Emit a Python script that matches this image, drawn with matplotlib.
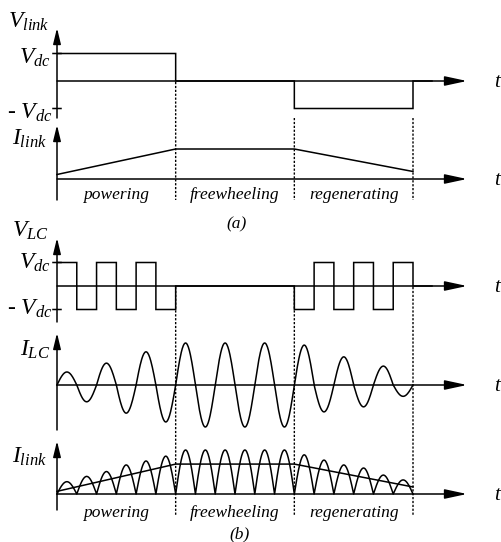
import numpy as np
import matplotlib
matplotlib.use("Agg")
import matplotlib.pyplot as plt

plt.rcParams['font.family'] = 'Liberation Serif'
plt.rcParams['mathtext.fontset'] = 'custom'
plt.rcParams['mathtext.it'] = 'Liberation Serif:italic'
plt.rcParams['mathtext.rm'] = 'Liberation Serif'
plt.rcParams['path.snap'] = False

# time is counted in half periods of the resonant tank
mode_edges = [0, 6, 12, 18]
mode_names = ['powering', 'freewheeling', 'regenerating']

# (a) link voltage in each mode (per unit of Vdc), average link current at the mode edges
vlink_levels = [1, 0, -1]
ilink_avg_a = [0.15, 1.0, 1.0, 0.25]

# (b) tank voltage in each half period (per unit of Vdc)
vlc_levels = [1, -1, 1, -1, 1, -1,
              0, 0, 0, 0, 0, 0,
              -1, 1, -1, 1, -1, 1]
# tank current peak in each half period
ilc_peaks = [0.31, -0.40, 0.52, -0.67, 0.79, -0.88,
             1.0, -1.0, 1.0, -1.0, 1.0, -1.0,
             0.95, -0.64, 0.67, -0.52, 0.45, -0.27]
# rectified link current humps and their average at the mode edges
ilink_humps = [0.28, 0.40, 0.51, 0.66, 0.75, 0.86,
               1.0, 1.0, 1.0, 1.0, 1.0, 1.0,
               0.89, 0.77, 0.66, 0.59, 0.43, 0.32]
ilink_avg_b = [0.06, 0.68, 0.68, 0.16]

W, H = 501, 542
X0 = 57                      # pixel column of the vertical axes
PX = (413 - X0) / 18         # pixels per half period
LW = 1.1
LABEL = 17
SMALL = 12.5


def col(px):
    return (px - X0) / PX


fig = plt.figure(figsize=(W / 100, H / 100), dpi=100)
base = fig.add_axes([0, 0, 1, 1], label='base')
base.set_xlim(col(0), col(W))
base.set_ylim(H, 0)
base.axis('off')


def panel(name, zero_row, unit):
    ax = fig.add_axes([0, 0, 1, 1], label=name)
    ax.set_xlim(col(0), col(W))
    ax.set_ylim((zero_row - H) / unit, zero_row / unit)
    ax.axis('off')
    return ax


def arrow(x0, y0, x1, y1, length, half):
    style = f'-|>,head_length={length},head_width={half}'
    base.annotate('', xy=(x1, y1), xytext=(x0, y0),
                  arrowprops=dict(arrowstyle=style, mutation_scale=1, lw=LW,
                                  color='k', fc='k', shrinkA=0, shrinkB=0))


def arches(ax, peaks):
    u = np.linspace(0, 1, 40)
    t = np.concatenate([k + u for k in range(len(peaks))])
    y = np.concatenate([p * np.sin(np.pi * u) for p in peaks])
    ax.plot(t, y, color='k', lw=LW)


def vticks(ax):
    for v in (1, -1):
        ax.plot([col(53), col(61)], [v, v], color='k', lw=LW)


# signal traces: (zero row, pixels per unit)
zero_rows = [81, 179, 286, 385, 494]
pa_v = panel('vlink', zero_rows[0], 27.5)
pa_i = panel('ilink_a', zero_rows[1], 30)
pb_v = panel('vlc', zero_rows[2], 23.5)
pb_i = panel('ilc', zero_rows[3], 42)
pb_l = panel('ilink_b', zero_rows[4], 44)

# axes: vertical arrows and time arrows
for top, bottom in [(28, 118), (125, 200), (238, 322), (333, 430), (441, 510)]:
    arrow(0, bottom, 0, top, 9.5, 2.3)
for row in zero_rows:
    arrow(0, row, col(467), row, 13.5, 2.9)
    base.text(col(494), row + 6, 't', fontsize=15, style='italic', va='baseline')

vticks(pa_v)
vticks(pb_v)

# (a)
pa_v.stairs(np.append(vlink_levels, 0), np.append(mode_edges, 19),
            baseline=None, color='k', lw=LW)
pa_i.plot(mode_edges, ilink_avg_a, color='k', lw=LW)

# (b)
pb_v.stairs(np.append(vlc_levels, 0), np.arange(len(vlc_levels) + 2),
            baseline=None, color='k', lw=LW)
arches(pb_i, ilc_peaks)
arches(pb_l, ilink_humps)
pb_l.plot(mode_edges, ilink_avg_b, color='k', lw=LW)

# mode boundaries
dots = dict(color='k', lw=1.0, linestyle=(0, (1.6, 1.2)))
base.vlines(mode_edges[1], 82, 200, **dots)
base.vlines(mode_edges[2:], 118, 200, **dots)
base.vlines(mode_edges[1:], 287, 516, **dots)

centres = [(a + b) / 2 for a, b in zip(mode_edges[:-1], mode_edges[1:])]
for c, name in zip(centres, mode_names):
    base.text(c, 199, name, fontsize=SMALL, style='italic', ha='center', va='baseline')
    base.text(c, 517, name, fontsize=SMALL, style='italic', ha='center', va='baseline')
base.text(col(237), 228, '(a)', fontsize=SMALL, style='italic', ha='center', va='baseline')
base.text(col(240), 538, '(b)', fontsize=SMALL, style='italic', ha='center', va='baseline')

# trace names and levels
base.text(col(8), 28, '$V_{link}$', fontsize=LABEL, va='baseline')
base.text(col(51), 64, '$V_{dc}$', fontsize=LABEL, ha='right', va='baseline')
base.text(col(53), 119, '- $V_{dc}$', fontsize=LABEL, ha='right', va='baseline')
base.text(col(12), 145, '$I_{link}$', fontsize=LABEL, va='baseline')

base.text(col(12), 237, '$V_{LC}$', fontsize=LABEL, va='baseline')
base.text(col(51), 269, '$V_{dc}$', fontsize=LABEL, ha='right', va='baseline')
base.text(col(53), 315, '- $V_{dc}$', fontsize=LABEL, ha='right', va='baseline')
base.text(col(20), 356, '$I_{LC}$', fontsize=LABEL, va='baseline')
base.text(col(12), 463, '$I_{link}$', fontsize=LABEL, va='baseline')

fig.savefig('out.png', dpi=100)
